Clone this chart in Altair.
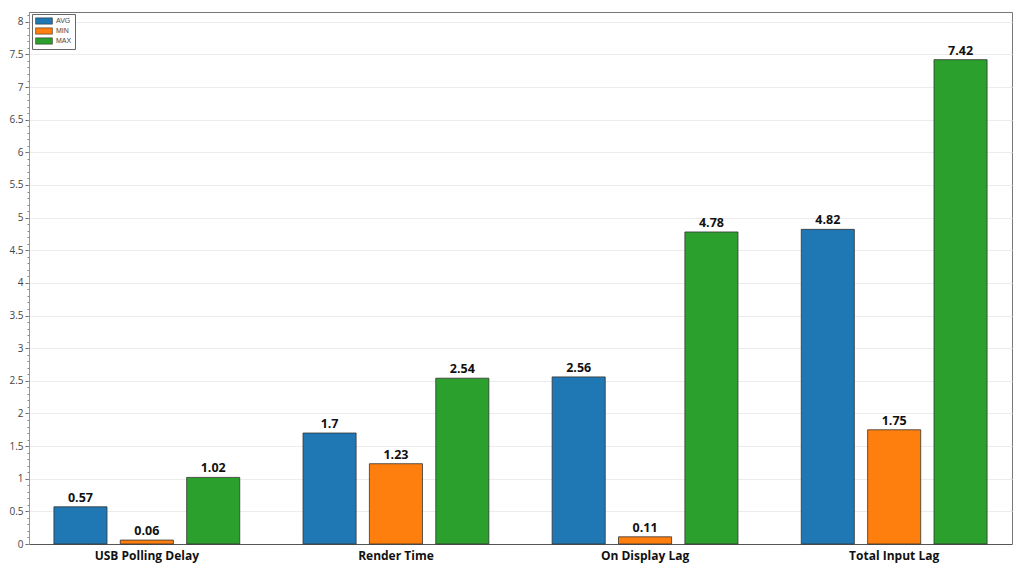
import altair as alt
import pandas as pd

categories = ["USB Polling Delay", "Render Time", "On Display Lag", "Total Input Lag"]
series = ["AVG", "MIN", "MAX"]
avg_vals = [0.57, 1.7, 2.56, 4.82]
min_vals = [0.06, 1.23, 0.11, 1.75]
max_vals = [1.02, 2.54, 4.78, 7.42]
colors = ["#1f77b4", "#ff7f0e", "#2ca02c"]
major_ticks = [i * 0.5 for i in range(17)]
minor_ticks = [round(i * 0.1, 1) for i in range(82)]

rows = []
for i, c in enumerate(categories):
    for s, vals in zip(series, [avg_vals, min_vals, max_vals]):
        rows.append({"cat": c, "series": s, "value": vals[i]})
df = pd.DataFrame(rows)

ydom = [0, 8.15]
yscale = alt.Scale(domain=ydom, nice=False, zero=True)
xscale = alt.Scale(paddingInner=0.254, paddingOuter=0.1)
oscale = alt.Scale(paddingInner=0.2, paddingOuter=0)

x = alt.X("cat:N", sort=categories, title=None, scale=xscale,
          axis=alt.Axis(labelAngle=0, labelFontWeight="bold", labelFontSize=12,
                        labelColor="#111", labelFont="Open Sans", ticks=False,
                        domainColor="#555", domainWidth=1, labelPadding=6))

bars = alt.Chart(df).mark_bar(stroke="#333", strokeWidth=0.8).encode(
    x=x,
    xOffset=alt.XOffset("series:N", sort=series, scale=oscale),
    y=alt.Y("value:Q", scale=yscale, title=None,
            axis=alt.Axis(values=major_ticks, grid=True, gridColor="#ececec",
                          labelFontSize=10, labelColor="#444", labelFont="Open Sans",
                          tickColor="#666", tickSize=4, domainColor="#999",
                          format="~g")),
    color=alt.Color("series:N", sort=series,
                    scale=alt.Scale(domain=series, range=colors),
                    legend=alt.Legend(title=None, orient="none", legendX=3, legendY=2,
                                      symbolType="M-2.4,-0.9L2.4,-0.9L2.4,0.9L-2.4,0.9Z",
                                      symbolSize=49,
                                      symbolStrokeColor="#333", symbolStrokeWidth=0.6,
                                      labelFontSize=7, labelColor="#444",
                                      labelLimit=40,
                                      rowPadding=0, padding=3, labelOffset=8,
                                      symbolOffset=5,
                                      strokeColor="#666", fillColor="white",
                                      cornerRadius=0)),
)

labels = alt.Chart(df).mark_text(dy=-9, fontWeight="bold", fontSize=12.5,
                                 font="Open Sans", color="#111").encode(
    x=alt.X("cat:N", sort=categories, scale=xscale),
    xOffset=alt.XOffset("series:N", sort=series, scale=oscale),
    y=alt.Y("value:Q", scale=yscale, axis=None),
    text=alt.Text("value:Q", format="~g"),
)

minor = alt.Chart(pd.DataFrame({"v": [0]})).mark_point(opacity=0).encode(
    y=alt.Y("v:Q", scale=yscale, title=None,
            axis=alt.Axis(values=minor_ticks, labels=False, grid=False, domain=False,
                          tickColor="#888", tickSize=2, orient="left")),
)

chart = alt.layer(bars, labels, minor).resolve_axis(y="independent").properties(
    width=983, height=532,
    autosize=alt.AutoSizeParams(type="none"),
    padding={"left": 21, "top": 4, "right": 4, "bottom": 24},
).configure_view(stroke="#777", strokeWidth=1)

chart.save("out.html", embed_options={"renderer": "svg", "actions": False})
